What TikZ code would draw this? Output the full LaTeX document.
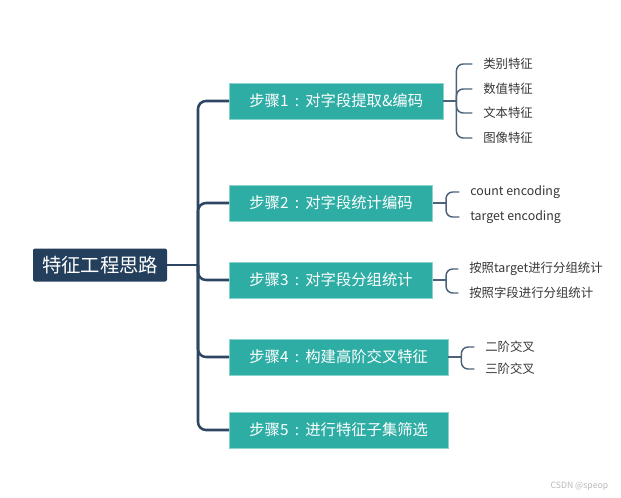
\documentclass[tikz,border=0pt]{standalone}
\usepackage{fontspec}
\setmainfont{Noto Sans CJK SC}
\usetikzlibrary{positioning,calc}
\definecolor{rootblue}{HTML}{243F5C}
\definecolor{stepteal}{HTML}{2EADA5}
\definecolor{linkblue}{HTML}{2C4663}
\definecolor{itemgray}{HTML}{363636}
\newcommand{\colonsep}{\makebox[1.1em][c]{:}}
\begin{document}
\begin{tikzpicture}[
  x=0.75pt, y=-0.75pt,
  rootbox/.style={fill=rootblue, text=white, rounded corners=1.5pt, font=\fontsize{14.5}{16}\selectfont, minimum width=100.5pt, minimum height=24.75pt, inner sep=0pt},
  stepbox/.style={fill=stepteal, draw=stepteal!55!white, line width=0.5pt, text=white, font=\fontsize{11.5}{13}\selectfont, minimum height=27pt, inner xsep=15pt, anchor=west},
  item/.style={font=\fontsize{9.3}{11}\selectfont, text=itemgray, anchor=west, inner sep=0pt},
  trunk/.style={draw=linkblue, line width=1.9pt, rounded corners=6pt},
  brace/.style={draw=linkblue!85!white, line width=1.1pt, rounded corners=5pt},
  watermark/.style={font=\fontsize{6.5}{8}\selectfont, text=gray!55, anchor=east}
]
\useasboundingbox (0,0) rectangle (621,497);
% root and steps
\node[rootbox] (root) at (100,265) {特征工程思路};
\node[stepbox] (s1) at (229,101) {步骤1\colonsep 对字段提取\&编码};
\node[stepbox] (s2) at (229,203) {步骤2\colonsep 对字段统计编码};
\node[stepbox] (s3) at (229,280) {步骤3\colonsep 对字段分组统计};
\node[stepbox] (s4) at (229,357) {步骤4\colonsep 构建高阶交叉特征};
\node[stepbox] (s5) at (229,430) {步骤5\colonsep 进行特征子集筛选};
% trunk
\coordinate (tr) at (198,265);
\draw[trunk] (root.east) -- (tr);
\foreach \s in {s1,s2,s3,s4,s5}
  \draw[trunk] (tr) |- (\s.west);
% leaves
\node[item] (a1) at (483,64) {类别特征};
\node[item] (a2) at (483,89) {数值特征};
\node[item] (a3) at (483,113) {文本特征};
\node[item] (a4) at (483,138) {图像特征};
\node[item] (b1) at (470,192) {count encoding};
\node[item] (b2) at (470,217) {target encoding};
\node[item] (c1) at (469,269) {按照target进行分组统计};
\node[item] (c2) at (469,293) {按照字段进行分组统计};
\node[item] (d1) at (485,347) {二阶交叉};
\node[item] (d2) at (485,369) {三阶交叉};
% brackets
\coordinate (k1) at ($(s1.east)+(13,0)$);
\coordinate (k2) at ($(s2.east)+(13,0)$);
\coordinate (k3) at ($(s3.east)+(13,0)$);
\coordinate (k4) at ($(s4.east)+(13,0)$);
\draw[brace] (s1.east) -- (k1);
\draw[brace] (s2.east) -- (k2);
\draw[brace] (s3.east) -- (k3);
\draw[brace] (s4.east) -- (k4);
\foreach \i in {a1,a2,a3,a4} \draw[brace] (k1) |- ([xshift=-8pt]\i.west);
\foreach \i in {b1,b2} \draw[brace] (k2) |- ([xshift=-8pt]\i.west);
\foreach \i in {c1,c2} \draw[brace] (k3) |- ([xshift=-8pt]\i.west);
\foreach \i in {d1,d2} \draw[brace] (k4) |- ([xshift=-8pt]\i.west);
\node[watermark] (csdn) at (613,486) {CSDN @speop};
\end{tikzpicture}
\end{document}
